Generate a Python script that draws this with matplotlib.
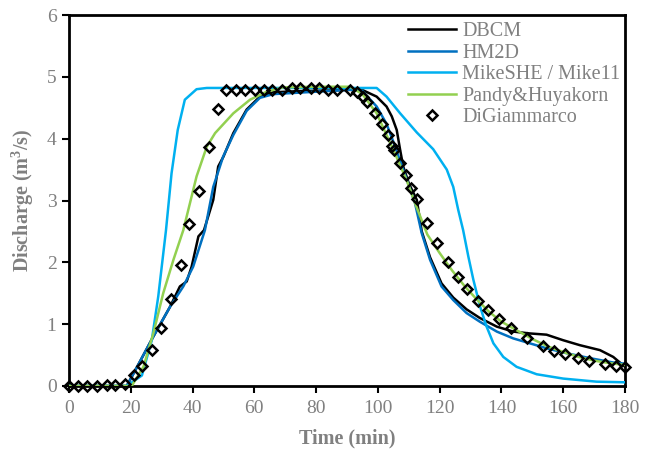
import matplotlib
matplotlib.use("Agg")
import matplotlib.pyplot as plt

plt.rcParams['font.family'] = ['Liberation Serif', 'DejaVu Serif']
plt.rcParams['mathtext.fontset'] = 'custom'
plt.rcParams['mathtext.rm'] = 'Liberation Serif'
plt.rcParams['mathtext.bf'] = 'Liberation Serif:bold'

# ---------------- data ----------------
dbcm_t = [0, 18.7, 22.7, 27.3, 32.7, 35.9, 38.1, 39.7, 41.9, 43.7, 46.7, 48.3, 50.0, 53.2, 57.5, 61.8,
          66.1, 75, 85, 91.0, 95.3, 99.6, 102.8, 104.5, 106.1, 107.2, 108.2, 110, 112.6, 114.2, 116.9,
          120.6, 124.4, 128.7, 133.0, 138.5, 143.8, 149.2, 154.6, 160.0, 165.4, 171.9, 176.2, 180]
dbcm_q = [0, 0, 0.37, 0.80, 1.28, 1.61, 1.69, 1.93, 2.42, 2.52, 3.01, 3.55, 3.71, 4.09, 4.47, 4.68,
          4.75, 4.77, 4.78, 4.79, 4.78, 4.68, 4.52, 4.36, 4.14, 3.82, 3.55, 3.28, 3.01, 2.50, 2.08,
          1.66, 1.43, 1.24, 1.10, 0.96, 0.88, 0.85, 0.83, 0.74, 0.66, 0.58, 0.47, 0.31]

hm2d_t = [0, 18.7, 22.7, 27.3, 32.7, 37.0, 40.2, 44.0, 46.7, 49.9, 53.2, 57.5, 61.8, 66.1, 69.4,
          80.2, 91.0, 95.0, 99.6, 102.8, 105.0, 108.2, 112.0, 114.2, 116.9, 120.6, 124.4, 128.7,
          133.0, 138.5, 143.8, 149.2, 154.6, 161.1, 168.7, 176.2, 180]
hm2d_q = [0, 0, 0.37, 0.80, 1.28, 1.61, 1.93, 2.52, 3.22, 3.71, 4.06, 4.45, 4.66, 4.72, 4.73,
          4.76, 4.79, 4.77, 4.52, 4.24, 3.95, 3.50, 2.96, 2.47, 2.04, 1.61, 1.39, 1.18,
          1.04, 0.88, 0.77, 0.69, 0.61, 0.53, 0.45, 0.38, 0.36]

mike_t = [0, 18.7, 23.6, 26.8, 28.9, 31.4, 33.2, 35.2, 37.5, 41.3, 44.6, 60, 80, 99.6, 102.8,
          107.2, 112.6, 117.9, 122.3, 124.4, 126.0, 127.6, 129.3, 130.9, 133.1, 135.2, 137.4,
          140.6, 144.9, 151.4, 160.0, 170.8, 180]
mike_q = [0, 0, 0.17, 0.74, 1.45, 2.52, 3.44, 4.14, 4.63, 4.80, 4.82, 4.82, 4.82, 4.82, 4.68,
          4.41, 4.10, 3.83, 3.50, 3.22, 2.85, 2.52, 2.09, 1.72, 1.28, 0.96, 0.69,
          0.47, 0.31, 0.19, 0.12, 0.07, 0.06]

pandy_t = [0, 20.3, 24.1, 27.3, 30.5, 33.8, 37.0, 41.3, 44.6, 47.3, 53.2, 58.6, 64.0, 69.4, 80,
           91.0, 95, 99.6, 105.0, 109.3, 112.0, 116.0, 120.0, 124.0, 128.0, 132.0, 136.0, 140.0,
           145.0, 150.0, 155.0, 160.0, 165.0, 170.0, 175.0, 180.0]
pandy_q = [0, 0, 0.31, 0.85, 1.50, 2.04, 2.52, 3.39, 3.87, 4.09, 4.41, 4.63, 4.76, 4.83, 4.84,
           4.84, 4.72, 4.41, 3.82, 3.33, 2.96, 2.45, 2.15, 1.87, 1.62, 1.40, 1.20, 1.04,
           0.90, 0.76, 0.64, 0.55, 0.47, 0.41, 0.37, 0.34]

digi_t = [0, 3, 5.9, 9, 12.2, 14.9, 18.1, 21, 23.6, 26.9, 29.8, 32.9, 36.2, 38.9, 42.0, 45.2,
          48.2, 50.8, 54, 57, 60.3, 63.2, 65.7, 69, 72.1, 74.9, 78.2, 80.9, 83.9, 86.9, 91.0,
          93.1, 95.3, 96.4, 99.1, 101.4, 103.2, 104.5, 105.3, 107.2, 109.1, 110.6, 112.6, 116.0,
          119.2, 122.6, 125.9, 128.7, 132.5, 135.5, 139.1, 143.1, 148.3, 153.6, 157.1, 160.7,
          164.7, 168.3, 173.5, 177.1, 180]
digi_q = [0, 0, 0, 0, 0.02, 0.02, 0.04, 0.17, 0.32, 0.59, 0.94, 1.40, 1.95, 2.62, 3.16, 3.87,
          4.48, 4.79, 4.79, 4.79, 4.79, 4.79, 4.79, 4.79, 4.82, 4.82, 4.82, 4.82, 4.79, 4.79, 4.79,
          4.76, 4.68, 4.59, 4.42, 4.24, 4.06, 3.88, 3.82, 3.61, 3.41, 3.20, 3.02, 2.64,
          2.31, 2.00, 1.76, 1.57, 1.38, 1.23, 1.08, 0.94, 0.78, 0.65, 0.57, 0.52,
          0.45, 0.41, 0.35, 0.33, 0.30]

x_ticks = [0, 20, 40, 60, 80, 100, 120, 140, 160, 180]
y_ticks = [0, 1, 2, 3, 4, 5, 6]

# ---------------- figure ----------------
W, H = 656, 458
fig = plt.figure(figsize=(W / 100, H / 100), dpi=100)
ax = fig.add_axes([69 / W, 1 - 386 / H, (625 - 69) / W, (386 - 15) / H])

grey = '#808080'
lw = 1.8
ax.plot(dbcm_t, dbcm_q, color='black', lw=lw, label='DBCM', zorder=3)
ax.plot(hm2d_t, hm2d_q, color='#0070C0', lw=lw, label='HM2D', zorder=3)
ax.plot(mike_t, mike_q, color='#00B0F0', lw=lw, label='MikeSHE / Mike11', zorder=3)
ax.plot(pandy_t, pandy_q, color='#92D050', lw=lw, label='Pandy&Huyakorn', zorder=4)
ax.plot(digi_t, digi_q, linestyle='none', marker='D', markersize=5, markerfacecolor='none',
        markeredgecolor='black', markeredgewidth=1.8, label='DiGiammarco', zorder=5, clip_on=False)

ax.set_xlim(0, 180)
ax.set_ylim(0, 6)
ax.set_xticks(x_ticks)
ax.set_yticks(y_ticks)
ax.tick_params(axis='both', direction='out', length=5, width=1.5, color='black',
               labelcolor=grey, labelsize=14, top=False, right=False)
ax.tick_params(axis='x', pad=5)
ax.tick_params(axis='y', pad=4)
for s in ax.spines.values():
    s.set_linewidth(2)
    s.set_color('black')

ax.set_xlabel('Time (min)', fontsize=14.5, fontweight='bold', color=grey, labelpad=8)
ax.set_ylabel('Discharge (m$^\\mathbf{3}$/s)', fontsize=14.5, fontweight='bold', color=grey, labelpad=8)

leg = ax.legend(loc='upper left', bbox_to_anchor=(408 / W, 1 - 22 / H), bbox_transform=fig.transFigure,
                frameon=False, fontsize=14.5, handlelength=2.4, handletextpad=0.3,
                labelspacing=0.12, borderpad=0, borderaxespad=0)
for t in leg.get_texts():
    t.set_color(grey)

fig.savefig('out.png', dpi=100)
